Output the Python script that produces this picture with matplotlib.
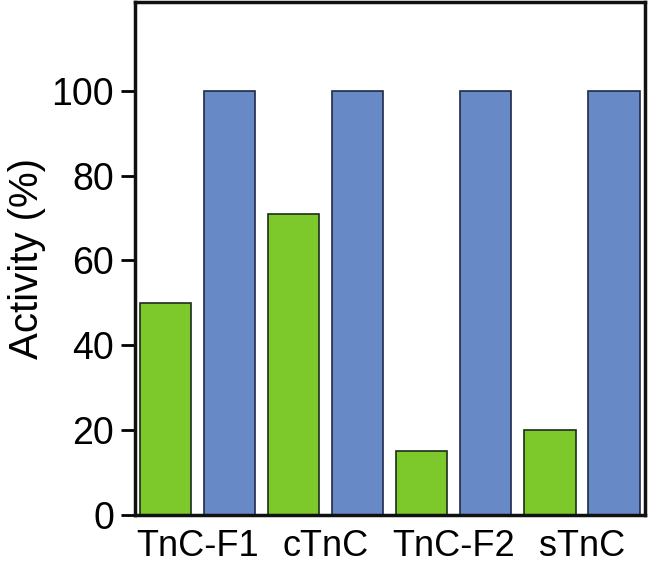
import numpy as np
from matplotlib import pyplot as plt

proteins = ['TnC-F1', 'cTnC', 'TnC-F2', 'sTnC']
green_vals = [50, 71, 15, 20]
blue_vals = [100, 100, 100, 100]
yticks = [0, 20, 40, 60, 80, 100]

plt.rcParams['font.family'] = ['Liberation Sans', 'DejaVu Sans']

fig = plt.figure(figsize=(6.48, 5.70), dpi=100)
ax = fig.add_axes([0.208, 0.097, 0.787, 0.9])

n = len(proteins)
green_x = np.arange(n) * 2
blue_x = green_x + 1
ax.bar(green_x, green_vals, width=0.8, color='#7dc82a', edgecolor='#1c2e1c', linewidth=1.2)
ax.bar(blue_x, blue_vals, width=0.8, color='#6789c6', edgecolor='#1f2a45', linewidth=1.2)

ax.set_xlim(-0.48, 2 * n - 0.52)
ax.set_ylim(0, 121)
ax.set_yticks(yticks)
ax.set_yticklabels([str(v) for v in yticks], fontsize=27)
ax.set_xticks(green_x + 0.5)
ax.set_xticklabels(proteins, fontsize=26)
ax.tick_params(axis='x', length=0, pad=10)
ax.tick_params(axis='y', length=10, width=2, pad=5)
ax.set_ylabel('Activity (%)', fontsize=29, labelpad=4)
for s in ax.spines.values():
    s.set_linewidth(2.5)
    s.set_color('#111111')

fig.savefig('out.png', dpi=100)
